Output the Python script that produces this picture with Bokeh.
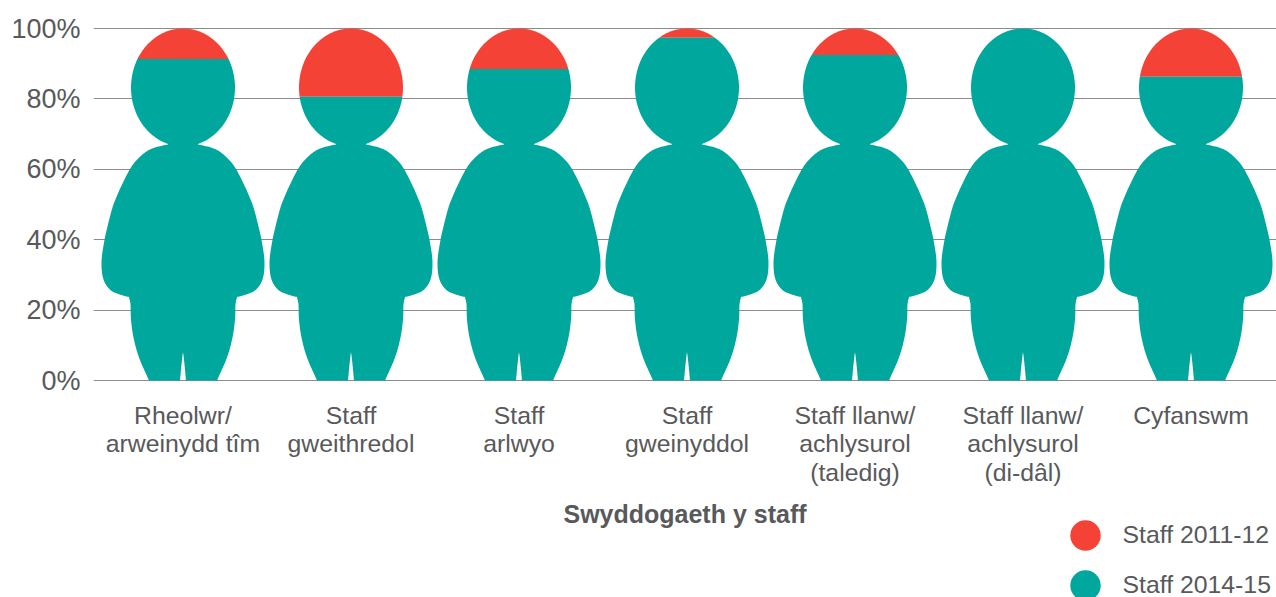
import numpy as np
from bokeh.embed import file_html
from bokeh.resources import INLINE
from bokeh.plotting import figure
from bokeh.models import Range1d, FixedTicker, Legend, LegendItem

categories = ["Rheolwr/\narweinydd tîm", "Staff\ngweithredol", "Staff\narlwyo", "Staff\ngweinyddol",
              "Staff llanw/\nachlysurol\n(taledig)", "Staff llanw/\nachlysurol\n(di-dâl)", "Cyfanswm"]
staff_2014_15 = [91.3, 80.6, 88.5, 97.4, 92.5, 100, 86.3]
staff_2011_12 = [8.7, 19.4, 11.5, 2.6, 7.5, 0, 13.7]
y_ticks = [0, 20, 40, 60, 80, 100]
x_label = "Swyddogaeth y staff"
legend_labels = ["Staff 2011-12", "Staff 2014-15"]

RED, TEAL, INK, GRID = "#f44336", "#00a79d", "#58595b", "#8c8c8c"
PX_Y, PX_X = 3.52, 168.0


def smooth(pts, n=10):
    p = np.array(pts, float)
    p = np.vstack([2 * p[0] - p[1], p, 2 * p[-1] - p[-2]])
    out = []
    for i in range(1, len(p) - 2):
        for t in np.linspace(0, 1, n, endpoint=False):
            out.append(0.5 * (2 * p[i] + (p[i + 1] - p[i - 1]) * t
                              + (2 * p[i - 1] - 5 * p[i] + 4 * p[i + 1] - p[i + 2]) * t ** 2
                              + (3 * p[i] - p[i - 1] - 3 * p[i + 1] + p[i + 2]) * t ** 3))
    return out


def person_outline():
    # pictogram silhouette: offset from centre (px), distance down from the 100% line (px)
    side = smooth([(-15, 116), (-28, 119), (-38, 124), (-50, 136), (-60, 154), (-69.5, 176), (-75, 196),
                   (-79, 214), (-81.5, 234), (-79.5, 251), (-72, 262), (-60, 267), (-54, 268.5)])
    side += smooth([(-54, 268.5), (-52.5, 276), (-52, 291), (-49.5, 309), (-44, 329), (-34, 352)])
    side += [np.array([-34.0, 352.0]), np.array([-3.0, 352.0])]
    side += smooth([(-3, 352), (-1.5, 336), (0, 323)])
    side = np.array(side)
    end = np.arcsin(15 / 52)
    th = np.linspace(end, 2 * np.pi - end, 120)
    head = np.column_stack([52 * np.sin(th), 59 + 59 * np.cos(th)])
    right = side[::-1] * [-1, 1]
    outline = np.vstack([head, side, right])
    return outline[:, 0] / PX_X, 100 - outline[:, 1] / PX_Y


def clip_band(xs, ys, lo, hi):
    def clip(pts, keep, cut):
        out = []
        for a, b in zip(pts, pts[1:] + pts[:1]):
            if keep(a):
                out.append(a)
            if keep(a) != keep(b):
                t = (cut - a[1]) / (b[1] - a[1])
                out.append((a[0] + t * (b[0] - a[0]), cut))
        return out
    pts = list(zip(xs, ys))
    pts = clip(pts, lambda q: q[1] <= hi, hi)
    if pts:
        pts = clip(pts, lambda q: q[1] >= lo, lo)
    return [q[0] for q in pts], [q[1] for q in pts]


ox, oy = person_outline()
teal_x, teal_y, red_x, red_y = [], [], [], []
for i, (a, b) in enumerate(zip(staff_2014_15, staff_2011_12)):
    tx, ty = clip_band(ox + i, oy, 0, a)
    teal_x.append(tx)
    teal_y.append(ty)
    rx, ry = clip_band(ox + i, oy, a, a + b)
    red_x.append(rx)
    red_y.append(ry)

p = figure(width=1276, height=597,
           x_range=Range1d((93 - 182.5) / PX_X, (1276 - 182.5) / PX_X),
           y_range=Range1d(-(597 - 380) / PX_Y, 100 + 3 / PX_Y),
           toolbar_location=None, output_backend="svg",
           min_border_left=93, min_border_right=0, min_border_top=25, min_border_bottom=0)
p.outline_line_color = None
p.xgrid.visible = False
p.ygrid.ticker = FixedTicker(ticks=y_ticks)
p.ygrid.grid_line_color = GRID
p.ygrid.grid_line_width = 1

p.yaxis.ticker = FixedTicker(ticks=y_ticks)
p.yaxis.major_label_overrides = {v: f"{v}%" for v in y_ticks}
p.yaxis.major_label_text_font = "Liberation Sans"
p.yaxis.major_label_text_font_size = "27px"
p.yaxis.major_label_text_color = INK
p.yaxis.major_label_standoff = 7
p.yaxis.axis_line_color = None
p.yaxis.major_tick_line_color = None
p.yaxis.minor_tick_line_color = None

p.xaxis.fixed_location = 0
p.xaxis.ticker = FixedTicker(ticks=list(range(len(categories))))
p.xaxis.major_label_overrides = {i: c for i, c in enumerate(categories)}
p.xaxis.major_label_text_font = "Liberation Sans"
p.xaxis.major_label_text_font_size = "24.8px"
p.xaxis.major_label_text_color = INK
p.xaxis.major_label_text_line_height = 1.06
p.xaxis.major_label_standoff = 15
p.xaxis.major_label_orientation = "horizontal"
p.xaxis.axis_line_color = None
p.xaxis.major_tick_line_color = None
p.xaxis.minor_tick_line_color = None
p.xaxis.axis_label = x_label
p.xaxis.axis_label_text_font = "Liberation Sans"
p.xaxis.axis_label_text_font_size = "25px"
p.xaxis.axis_label_text_font_style = "bold"
p.xaxis.axis_label_text_color = INK
p.xaxis.axis_label_standoff = 11

p.patches(xs=red_x, ys=red_y, fill_color=RED, line_color=None)
p.patches(xs=teal_x, ys=teal_y, fill_color=TEAL, line_color=None)

# one off-range anchor per legend entry: only the legend swatch is visible
r1 = p.circle(x=[-50], y=[-500], radius=0.01, fill_color=RED, line_color=None)
r2 = p.circle(x=[-50], y=[-500], radius=0.01, fill_color=TEAL, line_color=None)
for label, rend, centre in zip(legend_labels, (r1, r2), (534.5, 585)):
    p.add_layout(Legend(items=[LegendItem(label=label, renderers=[rend], index=0)],
                        location=(1046.5 - 93, 597 - centre - 39), orientation="vertical",
                        background_fill_alpha=0, border_line_color=None,
                        padding=0, margin=0, spacing=0, glyph_width=76, glyph_height=78,
                        label_standoff=0, label_text_font="Liberation Sans",
                        label_text_font_size="24.8px", label_text_color=INK), "center")

open("out.html", "w").write(file_html(p, INLINE))
